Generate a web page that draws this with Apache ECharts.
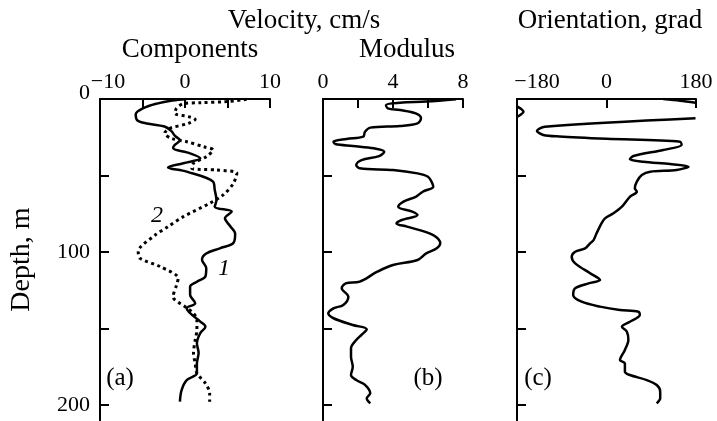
<!DOCTYPE html>
<html>
<head>
<meta charset="utf-8">
<script src="https://cdn.jsdelivr.net/npm/echarts@6/dist/echarts.min.js"></script>
<style>
  html, body { margin: 0; padding: 0; background: #fff; }
  #chart { width: 717px; height: 421px; }
</style>
</head>
<body>
<div id="chart"></div>
<script>
// depth, m (shared axis, inverted)
const depthTicks = [0, 50, 100, 150, 200];
const depthLabels = [0, 100, 200];

// (a) components, cm/s — curve 1 (solid)
const depth1 = [0, 1, 3, 6, 10, 14, 16, 18, 21, 24, 27, 30, 32, 35.5, 38.8, 42, 44.7, 47.5, 54, 59.5,
  66, 70.4, 73.6, 78, 83, 88, 94, 97.6, 101, 105, 110.7, 116, 119.4, 122.7, 128, 133.5, 136.8, 140,
  145.5, 148.8, 153, 159.7, 166, 172.8, 179.3, 183.7, 190.2, 197.8];
const comp1 = [0.2, -1.5, -3.3, -4.9, -5.8, -5.6, -4.5, -2.4, -1.6, -1.2, -0.6, -1.2, -1.4, 0.6, 1.8, -0.2,
  -2.0, 0.2, 3.3, 3.5, 3.7, 3.5, 5.5, 4.7, 5.3, 5.9, 5.7, 4.1, 2.5, 2.0, 2.5, 2.4, 1.4, 0.6, 0.6, 1.2,
  0.2, 0.6, 1.8, 2.4, 1.8, 1.4, 1.6, 1.4, 1.4, 0.2, -0.4, -0.6];

// (a) components — curve 2 (dotted)
const depth2 = [0.2, 1.7, 2.4, 3.1, 6.1, 9.4, 11.5, 13.3, 15.9, 19.2, 22.4, 25.7, 27.9, 31.2, 33.3, 37.7,
  42, 45.3, 46.4, 48.6, 55.1, 62.7, 68.2, 76.9, 83.4, 88.9, 99.8, 104.1, 109.6, 117.2, 121.6, 129.2,
  135.7, 140.1, 144.4, 151, 157.5, 166.2, 172.8, 179.3, 185.8, 192.4, 197.8];
const comp2 = [7.25, 4.9, 1.8, -0.2, -1.0, -1.2, 0.4, 1.2, 0.4, -1.8, -2.4, -1.6, 0.2, 2.2, 3.3, 2.5,
  1.0, 0.8, 3.7, 6.1, 5.7, 4.5, 2.9, -0.2, -2.0, -3.5, -5.5, -5.3, -2.9, -0.8, -1.0, -1.4,
  0, 1.0, 1.4, 1.4, 1.2, 1.0, 1.2, 1.4, 2.4, 2.9, 2.9];

// (b) modulus, cm/s
const depthMod = [0.2, 1.7, 2.4, 3.9, 6.1, 7.2, 9.4, 12.6, 15.9, 17.6, 18.7, 21.4, 24.6, 26.1, 27.9, 29.4,
  30.7, 32.2, 34.4, 37.3, 39.9, 43.1, 45.3, 46.4, 48.6, 50.8, 54, 57.3, 60.6, 63.9, 67.1, 70.4, 73.6,
  75.8, 79.1, 81.3, 83.4, 88.9, 94.3, 97.6, 100.9, 105.2, 108.5, 112.9, 119.4, 120.5, 123.7, 129.2,
  134.6, 136.8, 140.1, 143.3, 147.7, 150.5, 154.2, 157.5, 163, 168.4, 175, 180.4, 183.7, 186.9,
  192.4, 195.6, 198.9];
const modulus = [7.6, 5.9, 4.4, 3.6, 3.7, 4.4, 5.3, 5.6, 5.4, 4.4, 2.7, 2.4, 2.3, 1.35, 0.6, 0.7,
  1.7, 2.9, 3.5, 3.2, 2.2, 1.9, 2.1, 4.0, 5.4, 6.0, 6.2, 6.3, 5.7, 5.3, 4.6, 4.3, 5.1,
  5.4, 4.5, 4.2, 4.8, 6.3, 6.7, 6.5, 5.9, 5.4, 4.0, 3.1, 2.1, 1.3, 1.07, 1.45,
  1.16, 0.6, 0.3, 0.6, 1.7, 2.5, 2.2, 1.9, 1.6, 1.6, 1.7, 1.6, 1.9, 2.4,
  2.7, 2.5, 2.7];

// (c) orientation, grad (null = wrap-around break)
const depthDir = [0, 1.1, 2.4, null, 5, 8.3, 11.5, null,
  12.6, 18.1, 20.9, 23.5, 24.5, 26, 27.9, 30.1, 33.3, 37.3, 39.4, 41, 42.5, 44.2, 46.4, 47.5, 49.7,
  54, 58.4, 60.6, 63.9, 70.4, 74.7, 78, 81.3, 87.8, 92.2, 94.3, 97.6, 99.8, 103.1, 107.4, 113.9,
  118.3, 120.5, 123.7, 128.1, 132.5, 135.7, 137.9, 139, 141.2, 145.6, 148.8, 152.1, 157.5, 164,
  170.6, 172.8, 178.2, 180.4, 183.7, 186.9, 191.3, 195.6, 198.9];
const orient = [114, 148, 179, null, -179, -167, -179, null,
  179, -124, -140, -127, -95, 0, 148, 151, 114, 54, 47, 74, 128, 165, 141, 88, 71,
  61, 57, 61, 47, 31, 14, -3, -10, -20, -26, -33, -43, -63, -70, -63, -33,
  -13, -36, -63, -67, -50, -13, 27, 64, 67, 47, 31, 41, 44, 37,
  27, 37, 37, 47, 81, 101, 108, 108, 101];

const FONT = "'Liberation Serif', 'Times New Roman', serif";
const minus = v => String(v).replace('-', '\u2212');
const zip = (xs, ys) => xs.map((x, i) => [x, ys[i]]);

const chart = echarts.init(document.getElementById('chart'));

function xAxisOf(gridIndex, min, max, interval, labels, firstPad) {
  return {
    type: 'value', gridIndex, position: 'top', min, max, interval,
    axisLine: { show: true, onZero: false, lineStyle: { color: '#000', width: 2 } },
    axisTick: { show: true, inside: true, length: 9, lineStyle: { color: '#000', width: 2 } },
    splitLine: { show: false },
    axisLabel: {
      margin: 6, color: '#000', fontFamily: FONT, fontSize: 22,
      formatter: v => {
        if (labels.indexOf(v) < 0) return '';
        return v === min && firstPad ? '{f|' + minus(v) + '}' : minus(v);
      },
      rich: { f: { fontFamily: FONT, fontSize: 22, color: '#000', padding: [0, 0, 0, firstPad] } }
    }
  };
}

function yAxisOf(gridIndex, showLabel) {
  return {
    type: 'value', gridIndex, inverse: true, min: 0, max: 210,
    axisLine: { show: true, onZero: false, lineStyle: { color: '#000', width: 2 } },
    axisTick: { show: true, inside: true, length: 9, customValues: depthTicks, lineStyle: { color: '#000', width: 2 } },
    splitLine: { show: false },
    axisLabel: {
      show: showLabel, margin: 10, color: '#000', fontFamily: FONT, fontSize: 22,
      customValues: depthLabels,
      formatter: v => (v === 0 ? '{z|0}' : String(v)),
      rich: { z: { fontFamily: FONT, fontSize: 22, color: '#000', padding: [0, 0, 12, 0] } }
    },
    name: showLabel ? 'Depth, m' : '',
    nameLocation: 'middle', nameGap: 64,
    nameTextStyle: { color: '#000', fontFamily: FONT, fontSize: 28 }
  };
}

const text = (x, y, s, size, italic) => ({
  type: 'text', x, y,
  style: { text: s, fill: '#000', font: (italic ? 'italic ' : '') + size + 'px ' + FONT, align: 'center', verticalAlign: 'middle' }
});

chart.setOption({
  animation: false,
  backgroundColor: '#fff',
  grid: [
    { left: 100, top: 99, width: 170, height: 321.3 },
    { left: 323, top: 99, width: 140, height: 321.3 },
    { left: 517, top: 99, width: 179, height: 321.3 }
  ],
  xAxis: [
    xAxisOf(0, -10, 10, 5, [-10, 0, 10], 16),
    xAxisOf(1, 0, 8, 2, [0, 4, 8], 0),
    xAxisOf(2, -180, 180, 180, [-180, 0, 180], 40)
  ],
  yAxis: [yAxisOf(0, true), yAxisOf(1, false), yAxisOf(2, false)],
  series: [
    {
      type: 'line', xAxisIndex: 0, yAxisIndex: 0, data: zip(comp1, depth1),
      showSymbol: false, smooth: 0.35, lineStyle: { color: '#000', width: 2.5 }
    },
    {
      type: 'line', xAxisIndex: 0, yAxisIndex: 0, data: zip(comp2, depth2),
      showSymbol: false, smooth: 0.3, lineStyle: { color: '#000', width: 3, type: [3, 3.5] }
    },
    {
      type: 'line', xAxisIndex: 1, yAxisIndex: 1, data: zip(modulus, depthMod),
      showSymbol: false, smooth: 0.35, lineStyle: { color: '#000', width: 2.5 }
    },
    {
      type: 'line', xAxisIndex: 2, yAxisIndex: 2, data: zip(orient, depthDir),
      showSymbol: false, smooth: 0.3, connectNulls: false, lineStyle: { color: '#000', width: 2.5 }
    }
  ],
  graphic: [
    text(304, 21, 'Velocity, cm/s', 27),
    text(610, 21, 'Orientation, grad', 27),
    text(190, 50, 'Components', 27),
    text(407, 50, 'Modulus', 27),
    text(120, 378, '(a)', 25),
    text(428, 378, '(b)', 25),
    text(538, 378, '(c)', 25),
    text(157, 216, '2', 24, true),
    text(224, 269, '1', 24, true)
  ]
});
</script>
</body>
</html>
